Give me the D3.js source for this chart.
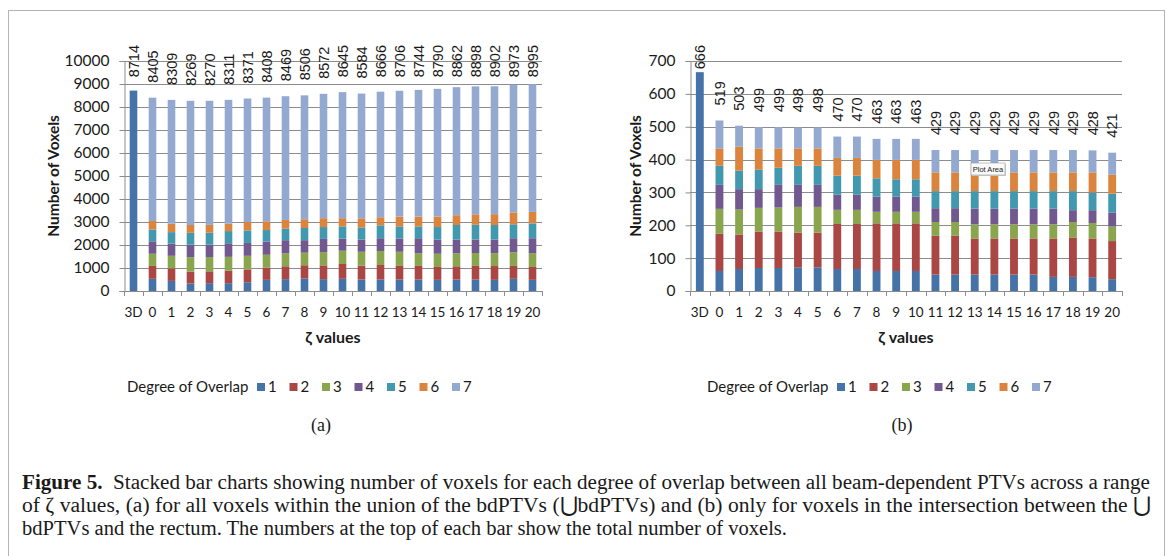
<!DOCTYPE html>
<html>
<head>
<meta charset="utf-8">
<script src="https://cdn.jsdelivr.net/npm/d3@7"></script>
<style>
    body { margin: 0; background: #fff; }
    text { font-family: Lato, "Open Sans", sans-serif; fill: #1a1a1a; }
</style>
</head>
<body>
<svg id="fig" width="1170" height="556"></svg>
<script>
const categories = ["3D", "0", "1", "2", "3", "4", "5", "6", "7", "8", "9", "10",
    "11", "12", "13", "14", "15", "16", "17", "18", "19", "20"];
const degrees = ["1", "2", "3", "4", "5", "6", "7"];
const degreeColors = ["#4572A7", "#AA4643", "#89A54E", "#71588F", "#4198AF", "#DB843D", "#93A9CF"];

// (a) all voxels in the union of the bdPTVs
const unionDeg1 = [8714, 530, 440, 325, 340, 340, 380, 485, 515, 545, 515, 530, 500, 500, 500, 500, 485, 500, 500, 485, 530, 485];
const unionDeg2 = [0, 560, 545, 515, 515, 540, 560, 530, 560, 575, 600, 645, 605, 630, 590, 590, 560, 575, 590, 600, 560, 560];
const unionDeg3 = [0, 530, 545, 630, 620, 605, 590, 560, 560, 545, 575, 575, 600, 605, 615, 545, 575, 560, 560, 560, 590, 600];
const unionDeg4 = [0, 540, 530, 545, 545, 590, 560, 575, 575, 545, 575, 530, 530, 560, 575, 660, 615, 600, 585, 590, 615, 650];
const unionDeg5 = [0, 515, 500, 515, 515, 530, 545, 500, 500, 530, 515, 530, 530, 560, 530, 515, 545, 635, 645, 635, 605, 645];
const unionDeg6 = [0, 370, 365, 340, 340, 320, 365, 380, 380, 380, 385, 355, 395, 350, 425, 425, 455, 425, 455, 470, 515, 500];
const unionDeg7 = [0, 5360, 5384, 5399, 5395, 5386, 5371, 5378, 5379, 5386, 5407, 5480, 5424, 5461, 5471, 5509, 5555, 5567, 5563, 5562, 5558, 5555];

// (b) voxels in the intersection of the union and the rectum
const rectumDeg1 = [666, 61, 67, 70, 70, 72, 72, 67, 67, 61, 61, 61, 50, 50, 50, 50, 50, 50, 43, 43, 42, 36];
const rectumDeg2 = [0, 113, 105, 111, 111, 106, 106, 137, 137, 145, 145, 145, 118, 118, 110, 110, 110, 110, 117, 120, 118, 116];
const rectumDeg3 = [0, 76, 76, 72, 73, 78, 78, 43, 43, 35, 35, 35, 42, 42, 43, 43, 43, 43, 43, 47, 47, 44];
const rectumDeg4 = [0, 73, 62, 57, 69, 67, 67, 46, 46, 46, 46, 46, 42, 42, 48, 48, 48, 48, 48, 36, 39, 43];
const rectumDeg5 = [0, 58, 56, 59, 52, 58, 58, 58, 58, 56, 53, 53, 52, 52, 53, 53, 53, 53, 53, 58, 54, 57];
const rectumDeg6 = [0, 53, 73, 65, 59, 53, 53, 54, 54, 56, 59, 59, 57, 57, 57, 57, 57, 57, 57, 57, 61, 58];
const rectumDeg7 = [0, 85, 64, 65, 65, 64, 64, 65, 65, 64, 64, 64, 68, 68, 68, 68, 68, 68, 68, 68, 67, 67];

const captionLines = [
    ["Figure 5.", "  Stacked bar charts showing number of voxels for each degree of overlap between all beam-dependent PTVs across a range"],
    ["", "of \u03B6 values, (a) for all voxels within the union of the bdPTVs (\u22C3bdPTVs) and (b) only for voxels in the intersection between the \u22C3"],
    ["", "bdPTVs and the rectum. The numbers at the top of each bar show the total number of voxels."]
];

const GRID_COLOR = "#8c8c8c";

function StackedBarChart(svg, opts) {
    let g = svg.append('g').attr("id", opts.id);

    // one row per category, one key per degree of overlap
    let rows = categories.map((c, i) => {
        let row = { cat: c };
        degrees.forEach((d, k) => row[d] = opts.series[k][i]);
        row.total = d3.sum(opts.series, s => s[i]);
        return row;
    });

    let x = d3.scaleBand()
        .domain(categories)
        .range([opts.left, opts.right])
        .paddingInner(0.6)
        .paddingOuter(0.3);
    let y = d3.scaleLinear()
        .domain([0, opts.yMax])
        .range([opts.bottom, opts.top]);
    let yTicks = d3.range(0, opts.yMax + 1, opts.yStep);

    // gridlines
    g.append('g')
        .selectAll('line')
        .data(yTicks.filter(t => t > 0))
        .enter()
        .append('line')
        .attr('x1', opts.left)
        .attr('x2', opts.right)
        .attr('y1', d => Math.round(y(d)) + 0.5)
        .attr('y2', d => Math.round(y(d)) + 0.5)
        .attr('stroke', GRID_COLOR)
        .attr('stroke-width', 1);

    // stacked bars
    let stack = d3.stack().keys(degrees)(rows);
    g.append('g')
        .selectAll('g')
        .data(stack)
        .enter()
        .append('g')
        .attr('fill', (d, k) => degreeColors[k])
        .selectAll('rect')
        .data(d => d)
        .enter()
        .append('rect')
        .attr('x', d => x(d.data.cat))
        .attr('width', x.bandwidth())
        .attr('y', d => y(d[1]))
        .attr('height', d => y(d[0]) - y(d[1]));

    // y axis
    let yAxis = g.append('g')
        .attr('transform', `translate(${opts.left + 0.5},0)`)
        .call(d3.axisLeft(y).tickValues(yTicks).tickFormat(d3.format('d')).tickSize(5).tickPadding(10));
    yAxis.select('.domain').attr('stroke', GRID_COLOR);
    yAxis.selectAll('.tick line').attr('stroke', GRID_COLOR);
    yAxis.selectAll('.tick text')
        .style('font-size', '15.5px')
        .style('font-family', 'Lato, sans-serif')
        .attr('fill', '#1a1a1a');

    // x axis: labels under bars, tick marks between categories
    let xAxis = g.append('g')
        .attr('transform', `translate(0,${opts.bottom + 0.5})`)
        .call(d3.axisBottom(x).tickSize(0).tickPadding(16));
    xAxis.select('.domain').remove();
    xAxis.selectAll('.tick text')
        .style('font-size', '13.5px')
        .style('font-family', 'Lato, sans-serif')
        .attr('fill', '#1a1a1a');
    g.append('line')
        .attr('x1', opts.left)
        .attr('x2', opts.right)
        .attr('y1', opts.bottom + 0.5)
        .attr('y2', opts.bottom + 0.5)
        .attr('stroke', GRID_COLOR);
    g.append('g')
        .selectAll('line')
        .data(d3.range(categories.length + 1))
        .enter()
        .append('line')
        .attr('x1', i => Math.round(opts.left + i * x.step()) + 0.5)
        .attr('x2', i => Math.round(opts.left + i * x.step()) + 0.5)
        .attr('y1', opts.bottom)
        .attr('y2', opts.bottom + 5)
        .attr('stroke', GRID_COLOR);

    // totals above each bar, rotated
    g.append('g')
        .selectAll('text')
        .data(rows)
        .enter()
        .append('text')
        .text(d => d.total)
        .style('font-family', '"Liberation Sans", Arial, sans-serif')
        .style('font-size', '14.5px')
        .attr('dy', '0.36em')
        .attr('text-anchor', 'start')
        .attr('transform', function (d) {
            let len = this.getComputedTextLength();
            let base = Math.max(y(d.total) - 15, opts.labelTop + len);
            return `translate(${x(d.cat) + x.bandwidth() / 2},${base}) rotate(-90)`;
        });

    // axis titles
    g.append('text')
        .text('Number of Voxels')
        .attr('transform', `translate(${opts.yTitleX},${(opts.top + opts.bottom) / 2}) rotate(-90)`)
        .attr('text-anchor', 'middle')
        .style('font-weight', 'bold')
        .style('font-size', '15.5px');
    g.append('text')
        .text('\u03B6 values')
        .attr('x', (opts.left + opts.right) / 2)
        .attr('y', 343)
        .attr('text-anchor', 'middle')
        .style('font-weight', 'bold')
        .style('font-size', '16px');

    // legend
    let legend = g.append('g').attr('transform', `translate(${opts.legendX},392)`);
    legend.append('text')
        .text('Degree of Overlap')
        .style('font-size', '15px');
    let items = legend.selectAll('.legend-item')
        .data(degrees)
        .enter()
        .append('g')
        .classed('legend-item', true)
        .attr('transform', (d, k) => `translate(${130 + k * 32.5},0)`);
    items.append('rect')
        .attr('y', -9)
        .attr('width', 8)
        .attr('height', 8)
        .attr('fill', (d, k) => degreeColors[k]);
    items.append('text')
        .text(d => d)
        .attr('x', 11)
        .style('font-size', '15px');

    // panel letter
    g.append('text')
        .text(opts.panel)
        .attr('x', opts.panelX)
        .attr('y', 431)
        .attr('text-anchor', 'middle')
        .style('font-family', '"Liberation Serif", "DejaVu Serif", serif')
        .style('font-size', '18px');

    this.x = x;
    this.y = y;
}

let svg = d3.select('#fig');

svg.append('rect')
    .attr('x', 8.5)
    .attr('y', 10.5)
    .attr('width', 1156)
    .attr('height', 570)
    .attr('fill', 'none')
    .attr('stroke', '#b4b4b4');

new StackedBarChart(svg, {
    id: 'chart-a',
    series: [unionDeg1, unionDeg2, unionDeg3, unionDeg4, unionDeg5, unionDeg6, unionDeg7],
    left: 124, right: 542, top: 61, bottom: 291,
    yMax: 10000, yStep: 1000,
    labelTop: 45,
    yTitleX: 59,
    legendX: 127,
    panel: '(a)', panelX: 321
});

new StackedBarChart(svg, {
    id: 'chart-b',
    series: [rectumDeg1, rectumDeg2, rectumDeg3, rectumDeg4, rectumDeg5, rectumDeg6, rectumDeg7],
    left: 690, right: 1122, top: 61, bottom: 291,
    yMax: 700, yStep: 100,
    labelTop: 45,
    yTitleX: 641,
    legendX: 707,
    panel: '(b)', panelX: 902
});

// excel "Plot Area" tooltip left in the figure
let tip = svg.append('g').attr('transform', 'translate(971,163)');
tip.append('rect')
    .attr('x', 1).attr('y', 1)
    .attr('width', 34).attr('height', 12)
    .attr('fill', '#d0d0d0');
tip.append('rect')
    .attr('width', 34).attr('height', 12)
    .attr('fill', '#fafafa')
    .attr('stroke', '#9a9a9a')
    .attr('stroke-width', 0.6);
tip.append('text')
    .text('Plot Area')
    .attr('x', 17).attr('y', 8.5)
    .attr('text-anchor', 'middle')
    .style('font-family', '"Liberation Sans", sans-serif')
    .style('font-size', '7.5px');

// caption
let caption = svg.append('g').attr('id', 'caption');
let captionWidths = [1128, 1129, 765];
captionLines.forEach((line, i) => {
    let t = caption.append('text')
        .attr('x', 22)
        .attr('y', 489 + i * 23)
        .attr('textLength', captionWidths[i])
        .attr('lengthAdjust', 'spacingAndGlyphs')
        .style('font-family', '"Liberation Serif", "DejaVu Serif", serif')
        .style('font-size', '20.5px');
    if (line[0]) t.append('tspan').style('font-weight', 'bold').text(line[0]);
    t.append('tspan').attr('xml:space', 'preserve').text(line[1]);
});
</script>
</body>
</html>
